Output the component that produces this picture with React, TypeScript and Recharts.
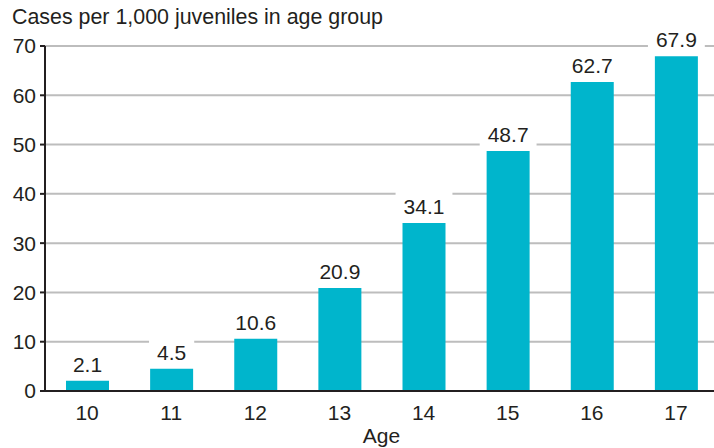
import { BarChart, Bar, XAxis, YAxis, CartesianGrid, LabelList, Label } from "recharts";

const ages = ["10", "11", "12", "13", "14", "15", "16", "17"];
const rates = [2.1, 4.5, 10.6, 20.9, 34.1, 48.7, 62.7, 67.9];
const yTicks = [0, 10, 20, 30, 40, 50, 60, 70];

const data = ages.map((age, i) => ({ age, rate: rates[i] }));

const FONT = "'Liberation Sans', Arial, Helvetica, sans-serif";
const INK = "#231f20";
const FS = 21;

// 값 라벨: 흰 배경으로 격자선을 가림
function ValueLabel(props: any) {
  const { x, y, width, value } = props;
  const text = Number(value).toFixed(1);
  const tw = text.split("").reduce((s: number, c: string) => s + (c === "." ? 0.278 : 0.556), 0) * FS;
  const cx = x + width / 2;
  const base = y - 9;
  return (
    <g>
      <rect x={cx - tw / 2 - 8} y={base - 23} width={tw + 16} height={29} fill="#fff" />
      <text x={cx} y={base} textAnchor="middle" fill={INK} fontSize={FS} fontFamily={FONT}>
        {text}
      </text>
    </g>
  );
}

export default function App() {
  return (
    <div style={{ position: "absolute", left: 0, top: 0, width: 714, height: 448, overflow: "hidden", background: "#fff" }}>
      <div
        style={{
          position: "absolute",
          left: 12,
          top: 7,
          fontFamily: FONT,
          fontSize: 21.4,
          lineHeight: "21px",
          color: INK,
          whiteSpace: "nowrap",
        }}
      >
        Cases per 1,000 juveniles in age group
      </div>
      <BarChart
        width={718}
        height={448}
        data={data}
        margin={{ top: 46, right: 0, bottom: 0, left: 0 }}
        barSize={43}
      >
        <CartesianGrid horizontal vertical={false} stroke="#bdbdbd" strokeWidth={2} />
        <XAxis
          dataKey="age"
          height={57}
          tickSize={0}
          tickMargin={14}
          axisLine={{ stroke: INK, strokeWidth: 2 }}
          tick={{ fill: INK, fontSize: FS, fontFamily: FONT }}
        >
          <Label value="Age" position="insideBottom" offset={5} fill={INK} fontSize={FS} fontFamily={FONT} />
        </XAxis>
        <YAxis
          width={45}
          domain={[0, 70]}
          ticks={yTicks}
          interval={0}
          tickSize={5}
          tickMargin={4}
          axisLine={{ stroke: INK, strokeWidth: 2 }}
          tickLine={{ stroke: INK, strokeWidth: 2 }}
          tick={{ fill: INK, fontSize: FS, fontFamily: FONT }}
        />
        <Bar dataKey="rate" fill="#00b5cc" isAnimationActive={false}>
          <LabelList dataKey="rate" content={ValueLabel} />
        </Bar>
      </BarChart>
    </div>
  );
}
